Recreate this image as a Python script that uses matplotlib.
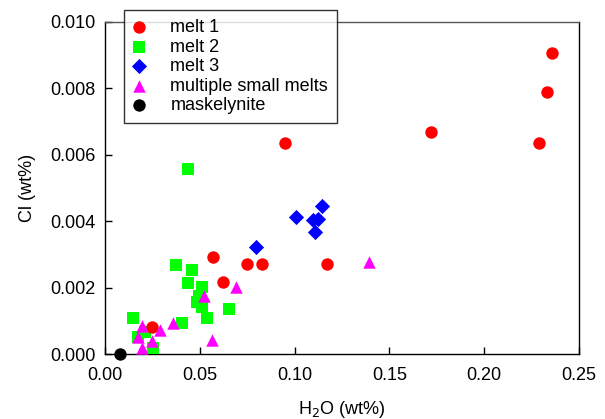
import matplotlib
matplotlib.use('Agg')
import matplotlib.pyplot as plt

# values
melt1_h2o = [0.236, 0.233, 0.229, 0.172, 0.095, 0.117, 0.075, 0.083, 0.057, 0.062, 0.025]
melt1_cl = [0.00907, 0.00789, 0.00637, 0.00668, 0.00637, 0.00270, 0.00270, 0.00270,
            0.00291, 0.00218, 0.00082]

melt2_h2o = [0.0437, 0.0374, 0.0458, 0.0437, 0.0511, 0.0484, 0.0495, 0.0511, 0.0537,
             0.0653, 0.0405, 0.0147, 0.0174, 0.0211, 0.0253]
melt2_cl = [0.00557, 0.00268, 0.00253, 0.00214, 0.00202, 0.00157, 0.00175, 0.00142,
            0.00108, 0.00136, 0.00093, 0.00108, 0.00051, 0.00066, 0.00018]

melt3_h2o = [0.0795, 0.101, 0.1147, 0.1095, 0.1126, 0.1105]
melt3_cl = [0.00322, 0.00413, 0.00446, 0.00404, 0.00406, 0.00367]

multi_h2o = [0.0521, 0.0689, 0.0358, 0.0563, 0.0195, 0.0289, 0.0174, 0.0247, 0.0195, 0.1395]
multi_cl = [0.00175, 0.00202, 0.00093, 0.00042, 0.00084, 0.00072, 0.00051, 0.00039,
            0.00018, 0.00277]

mask_h2o = [0.008]
mask_cl = [0.0]

labels = ['melt 1', 'melt 2', 'melt 3', 'multiple small melts', 'maskelynite']

plt.rcParams['font.family'] = ['Liberation Sans', 'DejaVu Sans']
fs = 13

fig = plt.figure(figsize=(6.05, 4.19), dpi=100)
ax = fig.add_axes([105/605, 1 - 354/419, 474/605, 332/419])

h2 = ax.scatter(melt2_h2o, melt2_cl, marker='s', s=64, color='#00ff00', lw=0, clip_on=False, zorder=3)
h1 = ax.scatter(melt1_h2o, melt1_cl, marker='o', s=80, color='#ff0000', lw=0, clip_on=False, zorder=3)
h3 = ax.scatter(melt3_h2o, melt3_cl, marker='D', s=60, color='#0000ff', lw=0, clip_on=False, zorder=3)
h4 = ax.scatter(multi_h2o, multi_cl, marker='^', s=80, color='#ff00ff', lw=0, clip_on=False, zorder=3)
h5 = ax.scatter(mask_h2o, mask_cl, marker='o', s=80, color='black', lw=0, clip_on=False, zorder=4)

ax.set_xlim(0, 0.25)
ax.set_ylim(0, 0.010)
ax.set_xticks([0.0, 0.05, 0.10, 0.15, 0.20, 0.25])
ax.set_yticks([0.0, 0.002, 0.004, 0.006, 0.008, 0.010])
ax.set_xticklabels(['0.00', '0.05', '0.10', '0.15', '0.20', '0.25'])
ax.set_yticklabels(['0.000', '0.002', '0.004', '0.006', '0.008', '0.010'])
ax.tick_params(direction='in', length=5, width=1, labelsize=fs, top=False, right=False)
ax.tick_params(axis='x', pad=9)
ax.tick_params(axis='y', pad=7)
for sp in ax.spines.values():
    sp.set_linewidth(1)
ax.spines['top'].set_color('#555555')

ax.set_xlabel('H$_2$O (wt%)', fontsize=fs, labelpad=11)
ax.set_ylabel('Cl (wt%)', fontsize=fs, labelpad=10)

leg = ax.legend([h1, h2, h3, h4, h5], labels,
                loc='upper left', bbox_to_anchor=(124/605, 1 - 10/419),
                bbox_transform=fig.transFigure, fontsize=fs, frameon=True,
                fancybox=False, borderpad=0.5, labelspacing=0.14,
                handletextpad=1.4, borderaxespad=0, handlelength=0.67)
leg.get_frame().set_edgecolor('black')
leg.get_frame().set_linewidth(1)
leg.set_zorder(10)

fig.savefig('out.png', dpi=100)
